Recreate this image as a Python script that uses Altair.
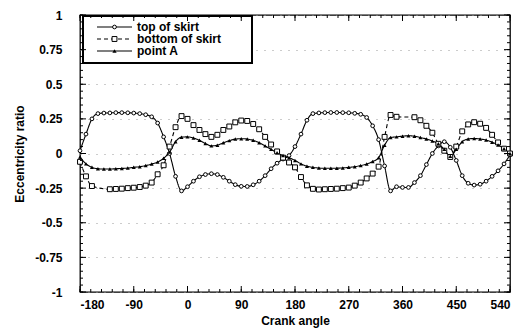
import altair as alt
import pandas as pd

# ---------------- data ----------------
ANGLES = list(range(-180, 541, 10))

TOP_OF_SKIRT = [
    0.02, 0.14, 0.25, 0.288, 0.292, 0.293, 0.295, 0.295, 0.294, 0.292,   # -180 .. -90
    0.288, 0.28, 0.265, 0.22, 0.12, 0.0, -0.165, -0.27, -0.24, -0.2,     # -80 .. 10
    -0.168, -0.152, -0.146, -0.152, -0.172, -0.2, -0.225, -0.237, -0.238, -0.226,  # 20 .. 110
    -0.2, -0.16, -0.11, -0.07, -0.04, -0.015, 0.05, 0.14, 0.24, 0.288,   # 120 .. 210
    0.293, 0.295, 0.296, 0.296, 0.295, 0.294, 0.29, 0.283, 0.26, 0.2,    # 220 .. 310
    0.1, -0.09, -0.27, -0.24, -0.245, -0.245, -0.21, -0.16, -0.08, 0.0,  # 320 .. 410
    0.055, 0.085, 0.045, -0.05, -0.16, -0.215, -0.228, -0.222, -0.2, -0.165,  # 420 .. 510
    -0.125, -0.075, -0.01,                                               # 520 .. 540
]

BOTTOM_OF_SKIRT = [
    -0.06, -0.165, -0.235, None, None, -0.258, -0.256, -0.254, -0.25, -0.247,
    -0.242, -0.232, -0.21, -0.15, -0.085, 0.05, 0.19, 0.27, 0.25, 0.205,
    0.17, 0.14, 0.12, 0.135, 0.17, 0.195, 0.225, 0.238, 0.235, 0.213,
    0.175, 0.12, 0.065, 0.015, -0.03, -0.065, -0.1, -0.17, -0.23, -0.255,
    -0.26, -0.258, -0.256, -0.254, -0.25, -0.246, -0.232, -0.21, -0.18, -0.145,
    -0.095, 0.12, 0.278, 0.265, None, None, 0.262, 0.24, 0.2, 0.15,
    0.07, 0.02, -0.025, 0.05, 0.16, 0.21, 0.226, 0.215, 0.185, 0.135,
    0.08, 0.035, 0.0,
]

POINT_A = [
    -0.025, -0.075, -0.1, -0.11, -0.112, -0.112, -0.11, -0.108, -0.105, -0.1,
    -0.095, -0.087, -0.076, -0.062, -0.035, 0.01, 0.085, 0.118, 0.12, 0.112,
    0.095, 0.072, 0.055, 0.06, 0.077, 0.093, 0.104, 0.107, 0.104, 0.095,
    0.078, 0.055, 0.03, 0.005, -0.015, -0.03, -0.05, -0.075, -0.092, -0.1,
    -0.105, -0.107, -0.107, -0.106, -0.104, -0.1, -0.095, -0.087, -0.076, -0.058,
    -0.03, 0.06, 0.115, 0.12, 0.125, 0.128, 0.125, 0.115, 0.105, 0.09,
    0.07, 0.03, -0.02, 0.03, 0.085, 0.105, 0.108, 0.105, 0.097, 0.082,
    0.062, 0.035, 0.0,
]

SERIES = ["top of skirt", "bottom of skirt", "point A"]

X_TICKS = [-180, -90, 0, 90, 180, 270, 360, 450, 540]
X_MINOR = list(range(-180, 541, 18))
Y_TICKS = [-1, -0.75, -0.5, -0.25, 0, 0.25, 0.5, 0.75, 1]
Y_MINOR = [round(-1 + 0.05 * i, 2) for i in range(41)]

# ---------------- tables ----------------
rows = []
for name, vals in zip(SERIES, [TOP_OF_SKIRT, BOTTOM_OF_SKIRT, POINT_A]):
    for a, v in zip(ANGLES, vals):
        if v is not None:
            rows.append({"angle": a, "value": v, "series": name})
df = pd.DataFrame(rows)

xt_major = pd.DataFrame({"angle": X_TICKS})
xt_minor = pd.DataFrame({"angle": X_MINOR})
yt_major = pd.DataFrame({"value": Y_TICKS})
yt_minor = pd.DataFrame({"value": Y_MINOR})

W, H = 430, 277
FONT = "Liberation Sans"

xscale = alt.Scale(domain=[-180, 540], nice=False, zero=False)
yscale = alt.Scale(domain=[-1, 1], nice=False, zero=False)

X = alt.X("angle:Q", scale=xscale,
          axis=alt.Axis(values=X_TICKS, title="Crank angle", ticks=False, domain=False,
                        grid=False, labelPadding=7, titlePadding=5, format="d"))
Y = alt.Y("value:Q", scale=yscale,
          axis=alt.Axis(values=Y_TICKS, title="Eccentricity ratio", ticks=False, domain=False,
                        grid=True, gridDash=[1, 7], gridColor="#999",
                        labelPadding=18, titlePadding=8, format=".2~f"))

base = alt.Chart(df).encode(x=X, y=Y)

lines = base.mark_line(color="black", strokeWidth=1.1, interpolate="monotone").encode(
    detail="series:N",
    strokeDash=alt.StrokeDash("series:N",
                              scale=alt.Scale(domain=SERIES, range=[[1, 0], [4, 3], [1, 0]]),
                              legend=None),
)

pts_top = base.transform_filter(alt.datum.series == SERIES[0]).mark_point(
    shape="circle", size=14, filled=True, fill="white", stroke="black", strokeWidth=1, opacity=1)
pts_bot = base.transform_filter(alt.datum.series == SERIES[1]).mark_point(
    shape="square", size=24, filled=True, fill="white", stroke="black", strokeWidth=1, opacity=1)
pts_a = base.transform_filter(alt.datum.series == SERIES[2]).mark_point(
    shape="triangle-up", size=16, filled=True, fill="black", opacity=1)

# ---------------- key drawn with ordinary marks ----------------
KEY_ROWS = [12, 24, 36]
KEY_DASH = [[1, 0], [4, 3], [1, 0]]
KEY_MARK = [
    dict(shape="circle", size=14, filled=True, fill="white", stroke="black", strokeWidth=1),
    dict(shape="square", size=24, filled=True, fill="white", stroke="black", strokeWidth=1),
    dict(shape="triangle-up", size=18, filled=True, fill="black"),
]

key_box = alt.Chart(pd.DataFrame({"series": ["key"]})).mark_rect(
    fill="white", stroke="black", strokeWidth=2
).encode(x=alt.value(3), x2=alt.value(172), y=alt.value(1), y2=alt.value(48))

key_layers = [key_box]
for name, yy, dash, mk in zip(SERIES, KEY_ROWS, KEY_DASH, KEY_MARK):
    entry = alt.Chart(pd.DataFrame({"series": [name]}))
    key_layers.append(entry.mark_rule(color="black", strokeWidth=1.1, strokeDash=dash).encode(
        x=alt.value(17), x2=alt.value(52), y=alt.value(yy)))
    key_layers.append(entry.mark_point(opacity=1, **mk).encode(
        x=alt.value(34.5), y=alt.value(yy)))
    key_layers.append(entry.mark_text(
        align="left", baseline="middle", font=FONT, fontSize=12, fontWeight="bold", color="black"
    ).encode(x=alt.value(57), y=alt.value(yy), text="series:N"))

# ---------------- inward ticks on all four sides ----------------
def xrule(data, y0, y1):
    return alt.Chart(data).mark_rule(color="black", strokeWidth=1).encode(
        x=X, y=alt.value(y0), y2=alt.value(y1))

def yrule(data, x0, x1):
    return alt.Chart(data).mark_rule(color="black", strokeWidth=1).encode(
        y=Y, x=alt.value(x0), x2=alt.value(x1))

tick_layers = [
    xrule(xt_major, H, H - 6), xrule(xt_minor, H, H - 3),
    xrule(xt_major, 0, 6), xrule(xt_minor, 0, 3),
    yrule(yt_major, 0, 6), yrule(yt_minor, 0, 3),
    yrule(yt_major, W, W - 6), yrule(yt_minor, W, W - 3),
]

chart = alt.layer(
    lines, pts_top, pts_bot, pts_a, *key_layers, *tick_layers,
).properties(
    width=W, height=H,
    padding={"left": 13, "top": 9, "right": 0, "bottom": 6},
    background="white",
).configure(
    locale={"number": {"decimal": ".", "thousands": ",", "grouping": [3],
                       "currency": ["$", ""], "minus": "-"}},
).configure_view(
    stroke="black", strokeWidth=1.3,
).configure_axis(
    labelFont=FONT, labelFontSize=12, labelFontWeight="bold", labelColor="black",
    titleFont=FONT, titleFontSize=12, titleFontWeight="bold", titleColor="black",
)

chart.save("out.html", embed_options={"renderer": "svg", "actions": False})
